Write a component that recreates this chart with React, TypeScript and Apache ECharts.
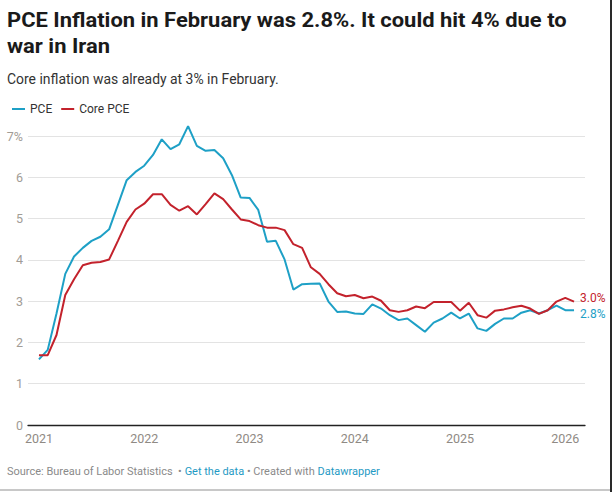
import React, { useEffect, useRef } from "react";
import * as echarts from "echarts";

const titleLines = [
  "PCE Inflation in February was 2.8%. It could hit 4% due to",
  "war in Iran",
];
const subtitle = "Core inflation was already at 3% in February.";
const seriesNames = ["PCE", "Core PCE"];
const seriesColors = ["#1ea0c6", "#c3222c"];

// Monthly values, Jan 2021 .. Feb 2026 (year-over-year %)
const pce = [
  1.59, 1.82, 2.7, 3.66, 4.08, 4.29, 4.46, 4.56, 4.74, 5.33, 5.93, 6.13,
  6.28, 6.54, 6.92, 6.68, 6.8, 7.24, 6.76, 6.64, 6.66, 6.46, 6.05, 5.51,
  5.5, 5.21, 4.44, 4.46, 4.01, 3.28, 3.41, 3.42, 3.43, 2.99, 2.74, 2.75,
  2.7, 2.69, 2.92, 2.82, 2.66, 2.54, 2.58, 2.42, 2.26, 2.48, 2.58, 2.72,
  2.58, 2.7, 2.34, 2.28, 2.45, 2.58, 2.58, 2.72, 2.78, 2.7, 2.78, 2.89,
  2.78, 2.78,
];
const corePce = [
  1.69, 1.69, 2.18, 3.15, 3.53, 3.87, 3.93, 3.95, 4.01, 4.46, 4.92, 5.22,
  5.36, 5.59, 5.59, 5.33, 5.19, 5.3, 5.1, 5.35, 5.61, 5.47, 5.22, 4.98,
  4.94, 4.84, 4.78, 4.78, 4.72, 4.38, 4.29, 3.82, 3.66, 3.41, 3.19, 3.12,
  3.15, 3.07, 3.11, 3.01, 2.78, 2.74, 2.78, 2.87, 2.83, 2.98, 2.98, 2.98,
  2.77, 2.96, 2.66, 2.6, 2.77, 2.8, 2.85, 2.89, 2.82, 2.69, 2.78, 2.99,
  3.08, 2.99,
];

const yearTickMonths = [0, 12, 24, 36, 48, 60];
const yearTickLabels = ["2021", "2022", "2023", "2024", "2025", "2026"];

const footerParts = [
  { text: "Source: Bureau of Labor Statistics  \u2022 ", style: "gray" },
  { text: "Get the data", style: "link" },
  { text: " \u2022 Created with ", style: "gray" },
  { text: "Datawrapper", style: "link" },
];

function measure(text: string, font: string): number {
  const ctx = document.createElement("canvas").getContext("2d");
  if (!ctx) return text.length * 7;
  ctx.font = font;
  return ctx.measureText(text).width;
}

export default function App() {
  const ref = useRef<HTMLDivElement>(null);

  useEffect(() => {
    if (!ref.current) return;
    const chart = echarts.init(ref.current, undefined, { renderer: "svg" });
    const FF = "Roboto, 'Noto Sans', sans-serif";

    const titleFont = `bold 21px Roboto`;
    const titleScale = 560 / measure(titleLines[0], titleFont);
    const subFont = `14px Roboto`;
    const subScale = 272 / measure(subtitle, subFont);
    const footFont = `11.5px Roboto`;
    const footScale =
      373 / measure(footerParts.map((p) => p.text).join(""), footFont);

    const toData = (arr: number[]) => arr.map((v, i) => [i, v]);

    chart.setOption({
      animation: false,
      backgroundColor: "#ffffff",
      textStyle: { fontFamily: FF },
      grid: { left: 28, right: 27, top: 136, bottom: 67 },
      legend: {
        left: 7,
        top: 98,
        icon: "rect",
        itemWidth: 13,
        itemHeight: 2,
        itemGap: 9,
        textStyle: { fontSize: 12, color: "#333333", fontFamily: FF },
        data: seriesNames,
      },
      xAxis: {
        type: "value",
        min: -1.25,
        max: 62.25,
        splitLine: { show: false },
        axisTick: { show: false },
        axisLine: {
          show: true,
          onZero: false,
          lineStyle: { color: "#222222", width: 1.3 },
        },
        axisLabel: {
          customValues: yearTickMonths,
          formatter: (v: number) =>
            yearTickLabels[yearTickMonths.indexOf(Math.round(v))] ?? "",
          color: "#8f8a84",
          fontSize: 12.5,
          margin: 7,
          fontFamily: FF,
        },
      },
      yAxis: {
        type: "value",
        min: 0,
        max: 7,
        interval: 1,
        axisLine: { show: false },
        axisTick: { show: false },
        splitLine: { lineStyle: { color: "#e3e3e3", width: 1 } },
        axisLabel: {
          formatter: (v: number) => (v === 7 ? "7%" : String(v)),
          color: "#a19c96",
          fontSize: 12.5,
          margin: 5,
          fontFamily: FF,
        },
      },
      series: [
        {
          name: seriesNames[0],
          type: "line",
          data: toData(pce),
          showSymbol: false,
          symbol: "none",
          clip: false,
          z: 3,
          lineStyle: { color: seriesColors[0], width: 2 },
          itemStyle: { color: seriesColors[0] },
          endLabel: {
            show: true,
            formatter: (p: any) => `${p.value[1].toFixed(1)}%`,
            color: seriesColors[0],
            fontSize: 12,
            distance: 6,
            offset: [0, 4],
            fontFamily: FF,
          },
        },
        {
          name: seriesNames[1],
          type: "line",
          data: toData(corePce),
          showSymbol: false,
          symbol: "none",
          clip: false,
          z: 4,
          lineStyle: { color: seriesColors[1], width: 2 },
          itemStyle: { color: seriesColors[1] },
          endLabel: {
            show: true,
            formatter: (p: any) => `${p.value[1].toFixed(1)}%`,
            color: seriesColors[1],
            fontSize: 12,
            distance: 6,
            offset: [0, -4],
            fontFamily: FF,
          },
        },
      ],
      graphic: [
        {
          type: "text",
          x: 7,
          y: 20,
          scaleX: titleScale,
          style: {
            text: titleLines[0],
            fontSize: 21,
            fontWeight: "bold",
            fontFamily: "Roboto",
            fill: "#1a1a1a",
            verticalAlign: "middle",
          },
        },
        {
          type: "text",
          x: 7,
          y: 46,
          scaleX: titleScale,
          style: {
            text: titleLines[1],
            fontSize: 21,
            fontWeight: "bold",
            fontFamily: "Roboto",
            fill: "#1a1a1a",
            verticalAlign: "middle",
          },
        },
        {
          type: "text",
          x: 7,
          y: 79,
          scaleX: subScale,
          style: {
            text: subtitle,
            fontSize: 14,
            fontFamily: "Roboto",
            fill: "#333333",
            verticalAlign: "middle",
          },
        },
        {
          type: "text",
          x: 7,
          y: 471,
          scaleX: footScale,
          style: {
            text: footerParts
              .map((p) => `{${p.style}|${p.text}}`)
              .join(""),
            fontSize: 11.5,
            fontFamily: "Roboto",
            verticalAlign: "middle",
            rich: {
              gray: { fill: "#8a8a8a", fontSize: 11.5, fontFamily: "Roboto" },
              link: { fill: "#1f9ac4", fontSize: 11.5, fontFamily: "Roboto" },
            },
          },
        },
        {
          type: "rect",
          shape: { x: 0, y: 489, width: 612, height: 2 },
          style: { fill: "#c8c8c8" },
        },
        {
          type: "rect",
          shape: { x: 610, y: 0, width: 2, height: 492 },
          style: { fill: "#2a2a2a" },
        },
      ],
    });

    return () => chart.dispose();
  }, []);

  return (
    <div
      ref={ref}
      style={{
        position: "fixed",
        left: 0,
        top: 0,
        width: 612,
        height: 492,
        background: "#fff",
      }}
    />
  );
}
